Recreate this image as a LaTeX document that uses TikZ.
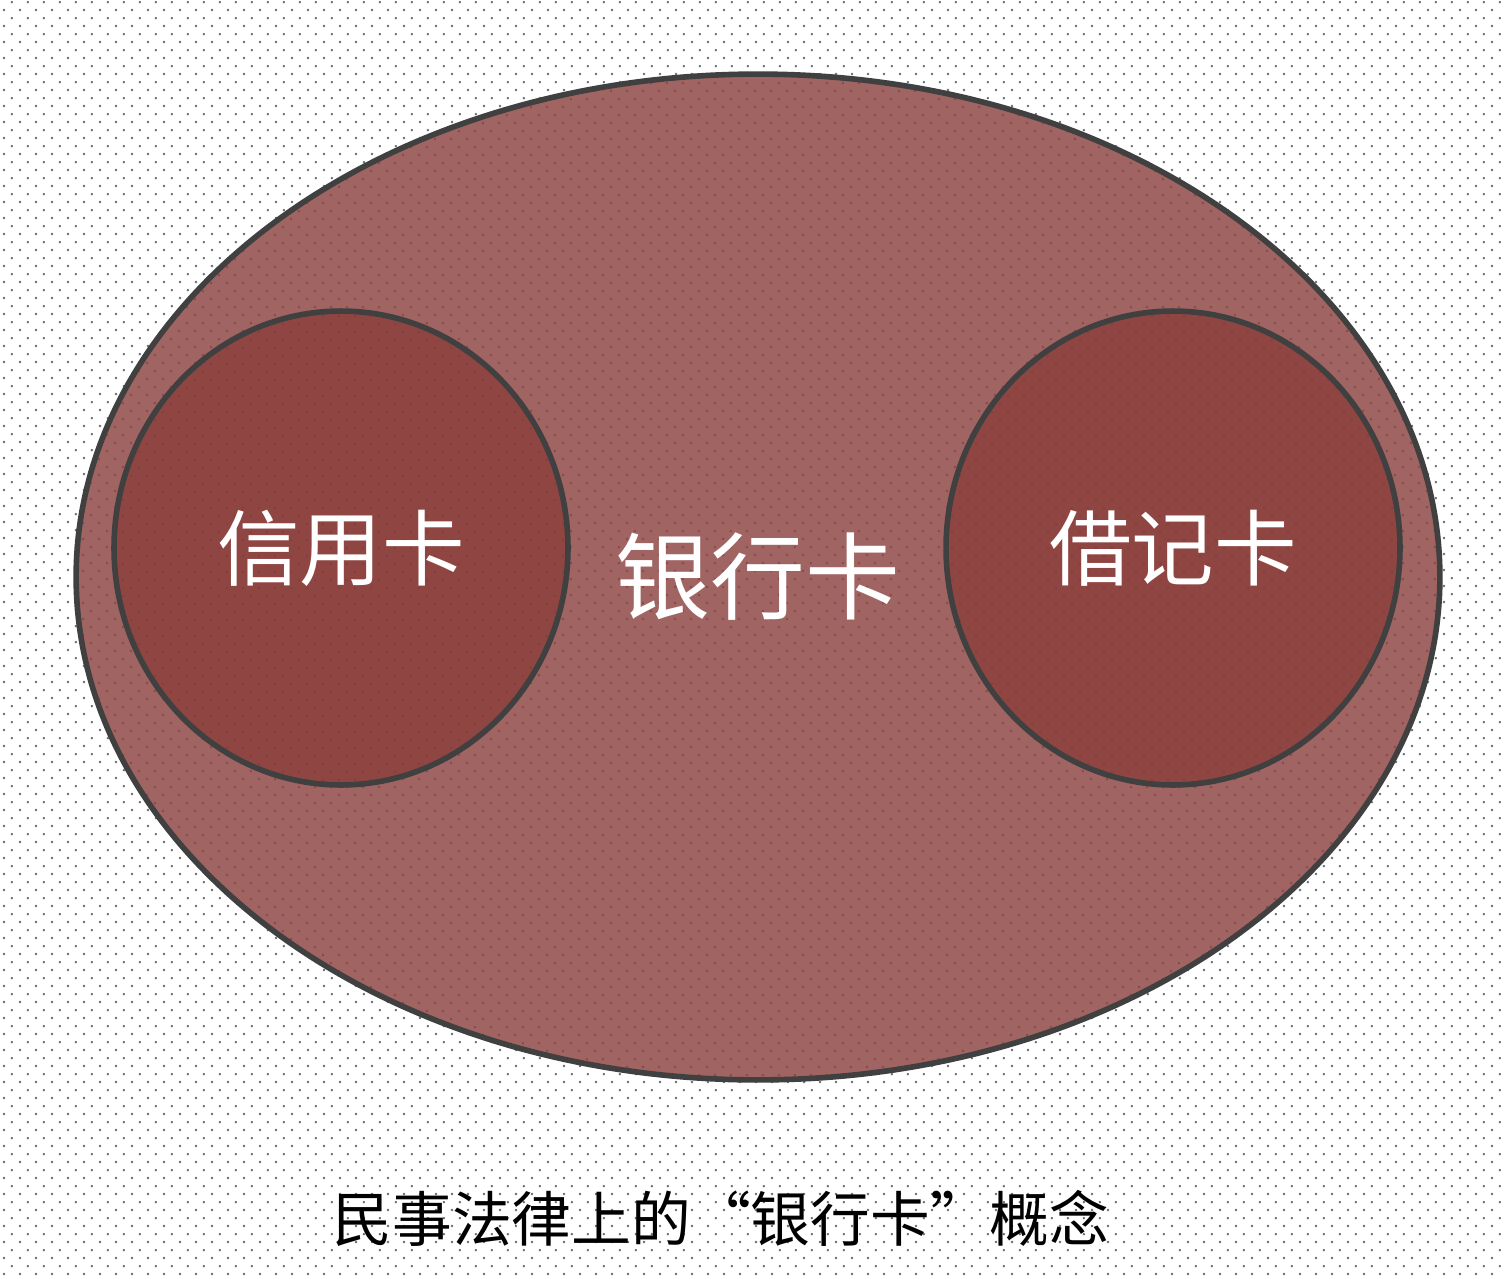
\documentclass[tikz,border=0pt]{standalone}
\usepackage{fontspec}
\usepackage{tikz}
\usetikzlibrary{shapes.geometric,patterns}
\newfontfamily\cjk{Noto Sans CJK SC}

\definecolor{bgdot}{HTML}{666C74}
\definecolor{outerfill}{HTML}{A06462}
\definecolor{outerdot}{HTML}{884A48}
\definecolor{innerfill}{HTML}{8F4642}
\definecolor{innerdot}{HTML}{843F3C}
\definecolor{rim}{HTML}{404040}

% staggered dots, 16px x 8px
\pgfdeclarepatternformonly{bgdots}{\pgfpointorigin}{\pgfqpoint{9.07pt}{9.07pt}}{\pgfqpoint{9.07pt}{9.07pt}}{%
  \pgfpathcircle{\pgfqpoint{2.27pt}{2.27pt}}{0.75pt}%
  \pgfpathcircle{\pgfqpoint{6.80pt}{6.80pt}}{0.75pt}%
  \pgfusepath{fill}}

\tikzset{
  set/.style={ellipse, draw=rim, line width=3.2pt, inner sep=0pt, text=white},
  outerset/.style={set, preaction={fill=outerfill}, pattern=bgdots, pattern color=outerdot,
    minimum width=27.28cm, minimum height=20.12cm, font=\cjk\fontsize{54}{60}\selectfont},
  innerset/.style={set, preaction={fill=innerfill}, pattern=bgdots, pattern color=innerdot,
    minimum width=9.08cm, minimum height=9.48cm, font=\cjk\fontsize{47}{54}\selectfont},
  caption/.style={text=black, font=\cjk\fontsize{34}{40}\selectfont}
}

\begin{document}
\begin{tikzpicture}[x=0.02cm, y=-0.02cm]
          % Background
          \useasboundingbox (0,0) rectangle (1506,1278);
          \fill[white] (0,0) rectangle (1506,1278);
          \fill[pattern=bgdots, pattern color=bgdot] (0,0) rectangle (1506,1278);

          % Bank card, with credit and debit cards inside
          \node[outerset] (bank) at (758,577) {银行卡};
          \node[innerset] (credit) at (341,548) {信用卡};
          \node[innerset] (debit) at (1173,548) {借记卡};

          % Caption
          \node[caption] (title) at (721,1218) {民事法律上的“银行卡”概念};

        \end{tikzpicture}
\end{document}
